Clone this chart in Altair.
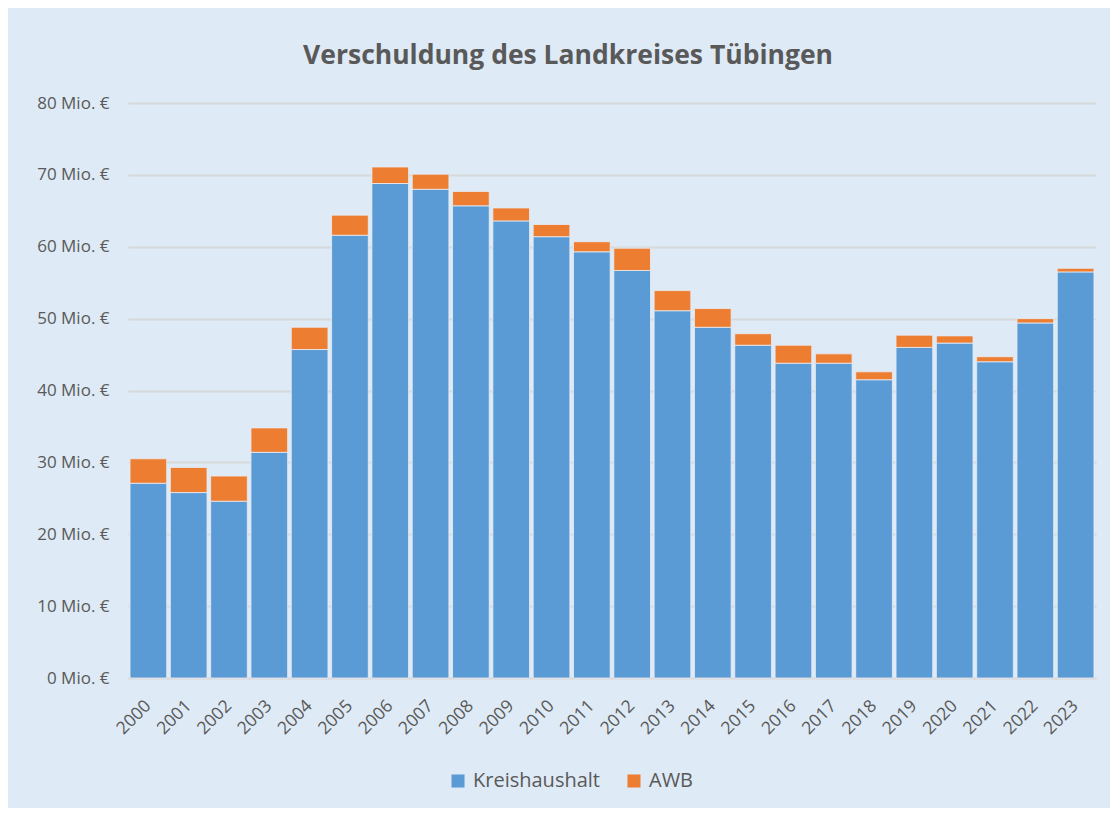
import altair as alt
import pandas as pd

years = [str(y) for y in range(2000, 2024)]
kreishaushalt = [27.1, 25.8, 24.6, 31.4, 45.7, 61.6, 68.8, 68.0, 65.7, 63.6, 61.4, 59.3,
                 56.7, 51.1, 48.8, 46.3, 43.8, 43.8, 41.5, 46.0, 46.6, 44.0, 49.4, 56.5]
awb = [3.4, 3.5, 3.5, 3.4, 3.1, 2.8, 2.3, 2.1, 2.0, 1.8, 1.7, 1.4,
       3.1, 2.8, 2.6, 1.6, 2.5, 1.3, 1.1, 1.7, 1.0, 0.7, 0.6, 0.5]
series = ["Kreishaushalt", "AWB"]
colors = ["#5B9BD5", "#ED7D31"]
y_ticks = [0, 10, 20, 30, 40, 50, 60, 70, 80]

rows = []
for i, y in enumerate(years):
    rows.append({"Jahr": y, "Serie": series[0], "Wert": kreishaushalt[i], "ord": 0})
    rows.append({"Jahr": y, "Serie": series[1], "Wert": awb[i], "ord": 1})
df = pd.DataFrame(rows)

FONT = "Open Sans"
TXT = "#595959"

chart = alt.Chart(df).mark_bar(stroke="#E8EEF6", strokeWidth=0.8).encode(
    x=alt.X("Jahr:N", sort=years, title=None,
            scale=alt.Scale(paddingInner=0.09, paddingOuter=0.05),
            axis=alt.Axis(labelAngle=-45, labelAlign="right", labelBaseline="middle",
                          labelFontSize=17.5, labelColor=TXT, labelFont=FONT,
                          ticks=False, labelPadding=25, domainColor="#D9D9D9",
                          domainWidth=1.5, grid=False)),
    y=alt.Y("Wert:Q", stack="zero", title=None,
            scale=alt.Scale(domain=[0, 80], nice=False),
            axis=alt.Axis(values=y_ticks, labelExpr="datum.value + ' Mio. €'",
                          labelFontSize=17, labelColor=TXT, labelFont=FONT,
                          ticks=False, domain=False, labelPadding=19,
                          gridColor="#D6D9DC", gridWidth=2)),
    color=alt.Color("Serie:N", sort=series,
                    scale=alt.Scale(domain=series, range=colors),
                    legend=alt.Legend(title=None, orient="none", legendX=320, legendY=668,
                                      direction="horizontal", symbolType="square",
                                      symbolSize=170, symbolStrokeWidth=0,
                                      labelFontSize=20, labelColor=TXT, labelFont=FONT,
                                      columnPadding=24, labelOffset=5)),
    order=alt.Order("ord:Q"),
).properties(
    width=968, height=575,
    title=alt.TitleParams("Verschuldung des Landkreises Tübingen", fontSize=26.5,
                          font=FONT, fontWeight="bold", color=TXT, anchor="middle",
                          dx=-44, offset=25),
    padding={"left": 120, "top": 95, "right": 14, "bottom": 130},
    autosize=alt.AutoSizeParams(type="none"),
).configure(background="#DEEAF5").configure_view(stroke=None)

chart.save("out.html", embed_options={"renderer": "svg", "actions": False})
